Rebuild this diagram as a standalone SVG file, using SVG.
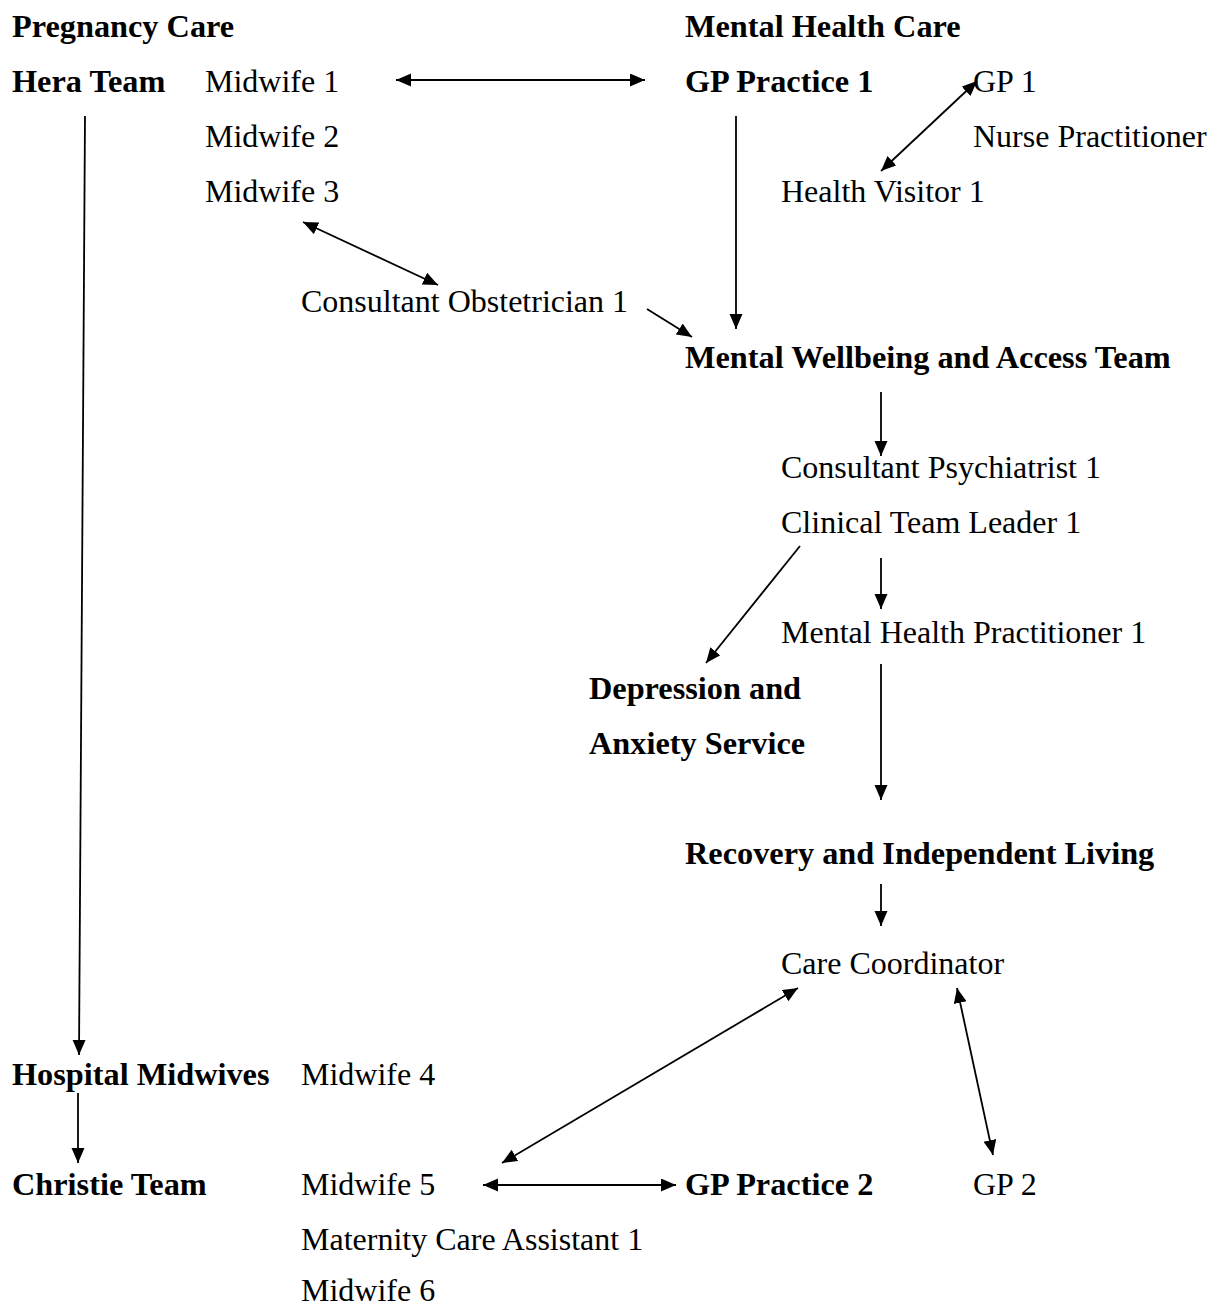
<svg xmlns="http://www.w3.org/2000/svg" width="1208" height="1306" viewBox="0 0 1208 1306">
<style>
text { font-family: "Liberation Serif", "Times New Roman", serif; font-size: 32px; fill: #000; }
.b { font-weight: bold; font-size: 32.3px; }
.c line { stroke: #000; stroke-width: 1.8; fill: none; }
.one { marker-end: url(#ah); }
.two { marker-start: url(#ah); marker-end: url(#ah); }
</style>
<defs>
<marker id="ah" markerUnits="userSpaceOnUse" markerWidth="16" markerHeight="14" refX="15" refY="6.5" orient="auto-start-reverse">
<path d="M0,0 L15,6.5 L0,13 z" fill="#000"/>
</marker>
</defs>
<rect width="1208" height="1306" fill="#fff"/>

<g id="pregnancy-care"><text class="b" x="12" y="36.5">Pregnancy Care</text></g>
<g id="mental-health-care"><text class="b" x="685" y="36.5">Mental Health Care</text></g>
<g id="hera-team"><text class="b" x="12" y="91.7">Hera Team</text></g>
<g id="midwife-1"><text x="205" y="91.7">Midwife 1</text></g>
<g id="gp-practice-1"><text class="b" x="685" y="91.7">GP Practice 1</text></g>
<g id="gp-1"><text x="973" y="91.7">GP 1</text></g>
<g id="midwife-2"><text x="205" y="146.8">Midwife 2</text></g>
<g id="nurse-practitioner"><text x="973" y="146.8">Nurse Practitioner</text></g>
<g id="midwife-3"><text x="205" y="202">Midwife 3</text></g>
<g id="health-visitor-1"><text x="781" y="202">Health Visitor 1</text></g>
<g id="consultant-obstetrician-1"><text x="301" y="312.3">Consultant Obstetrician 1</text></g>
<g id="mwat"><text class="b" x="685" y="367.5">Mental Wellbeing and Access Team</text></g>
<g id="consultant-psychiatrist-1"><text x="781" y="477.9">Consultant Psychiatrist 1</text></g>
<g id="clinical-team-leader-1"><text x="781" y="533">Clinical Team Leader 1</text></g>
<g id="mental-health-practitioner-1"><text x="781" y="643.4">Mental Health Practitioner 1</text></g>
<g id="das"><text class="b" x="589" y="698.5">Depression and</text><text class="b" x="589" y="753.7">Anxiety Service</text></g>
<g id="recovery"><text class="b" x="685" y="864.1">Recovery and Independent Living</text></g>
<g id="care-coordinator"><text x="781" y="974.4">Care Coordinator</text></g>
<g id="hospital-midwives"><text class="b" x="12" y="1084.7">Hospital Midwives</text></g>
<g id="midwife-4"><text x="301" y="1084.7">Midwife 4</text></g>
<g id="christie-team"><text class="b" x="12" y="1195.1">Christie Team</text></g>
<g id="midwife-5"><text x="301" y="1195.1">Midwife 5</text></g>
<g id="gp-practice-2"><text class="b" x="685" y="1195.1">GP Practice 2</text></g>
<g id="gp-2"><text x="973" y="1195.1">GP 2</text></g>
<g id="mca-1"><text x="301" y="1250.3">Maternity Care Assistant 1</text></g>
<g id="midwife-6"><text x="301" y="1301">Midwife 6</text></g>

<g id="connectors" class="c">
<line class="two" x1="396" y1="80" x2="645" y2="80"/>
<line class="one" x1="85" y1="116" x2="79" y2="1055"/>
<line class="two" x1="303" y1="222" x2="438" y2="285"/>
<line class="one" x1="647" y1="309" x2="692" y2="337"/>
<line class="one" x1="736" y1="116" x2="736" y2="329"/>
<line class="two" x1="977" y1="81" x2="881" y2="171"/>
<line class="one" x1="881" y1="392" x2="881" y2="456"/>
<line class="one" x1="800" y1="546" x2="706" y2="663"/>
<line class="one" x1="881" y1="558" x2="881" y2="609"/>
<line class="one" x1="881" y1="664" x2="881" y2="800"/>
<line class="one" x1="881" y1="884" x2="881" y2="926"/>
<line class="two" x1="798" y1="988" x2="502" y2="1163"/>
<line class="two" x1="957" y1="988" x2="993" y2="1155"/>
<line class="one" x1="78" y1="1093" x2="78" y2="1163"/>
<line class="two" x1="483" y1="1185" x2="676" y2="1185"/>
</g>
</svg>
